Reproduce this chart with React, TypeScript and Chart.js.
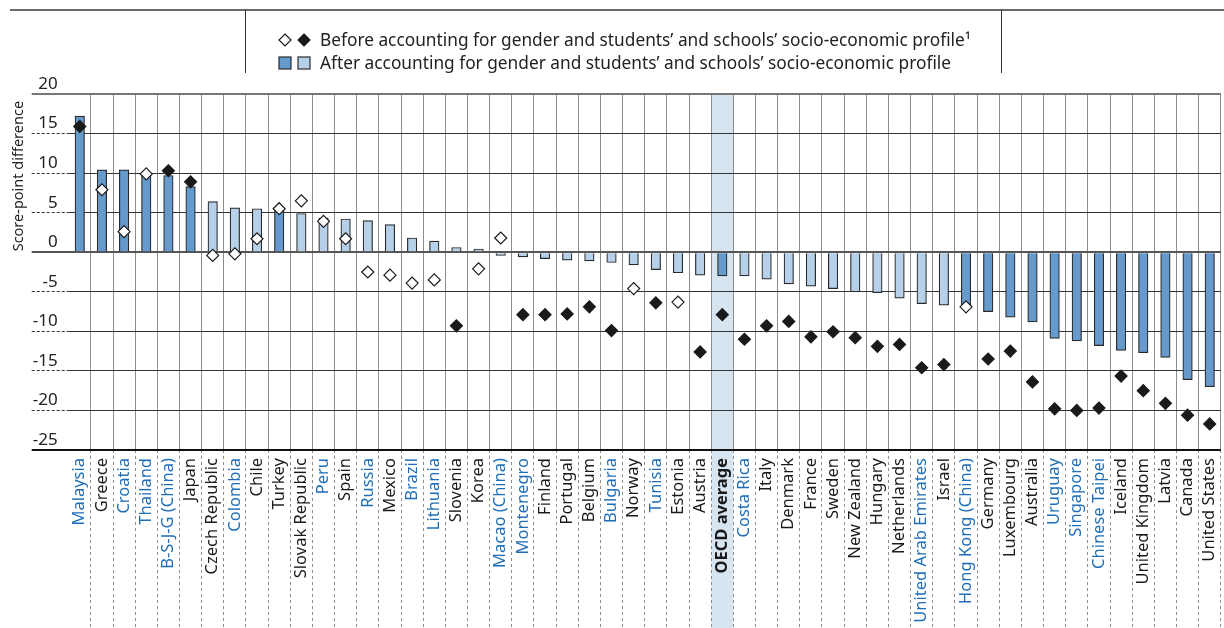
import React, { useEffect, useRef } from "react";
import { Chart, registerables } from "chart.js";

Chart.register(...registerables);

const categories = [
  "Malaysia", "Greece", "Croatia", "Thailand", "B-S-J-G (China)", "Japan", "Czech Republic",
  "Colombia", "Chile", "Turkey", "Slovak Republic", "Peru", "Spain", "Russia", "Mexico", "Brazil",
  "Lithuania", "Slovenia", "Korea", "Macao (China)", "Montenegro", "Finland", "Portugal", "Belgium",
  "Bulgaria", "Norway", "Tunisia", "Estonia", "Austria", "OECD average", "Costa Rica", "Italy",
  "Denmark", "France", "Sweden", "New Zealand", "Hungary", "Netherlands", "United Arab Emirates",
  "Israel", "Hong Kong (China)", "Germany", "Luxembourg", "Australia", "Uruguay", "Singapore",
  "Chinese Taipei", "Iceland", "United Kingdom", "Latvia", "Canada", "United States",
];

// After accounting for gender and socio-economic profile (bars)
const afterValues = [
  17.2, 10.4, 10.4, 9.8, 9.7, 8.3, 6.4, 5.6, 5.5, 5.3, 4.9, 4.3, 4.2, 4.0, 3.5, 1.8,
  1.4, 0.6, 0.4, -0.4, -0.6, -0.8, -1.0, -1.1, -1.3, -1.6, -2.2, -2.6, -2.9, -3.0, -3.0, -3.4,
  -4.0, -4.3, -4.6, -5.0, -5.1, -5.8, -6.5, -6.7, -6.7, -7.5, -8.2, -8.8, -10.9, -11.2,
  -11.8, -12.4, -12.7, -13.3, -16.1, -17.0,
];

// Before accounting (diamonds)
const beforeValues = [
  15.9, 7.9, 2.6, 9.9, 10.3, 8.9, -0.4, -0.2, 1.7, 5.5, 6.5, 3.9, 1.7, -2.5, -2.9, -3.9,
  -3.5, -9.3, -2.1, 1.8, -7.9, -7.9, -7.8, -6.9, -9.9, -4.6, -6.4, -6.3, -12.6, -7.9, -11.0, -9.3,
  -8.75, -10.7, -10.05, -10.8, -11.9, -11.65, -14.6, -14.2, -6.9, -13.5, -12.5, -16.4, -19.8, -20.0,
  -19.7, -15.65, -17.5, -19.1, -20.6, -21.7,
];

// Statistical significance (1 = significant)
const afterSignificant = [
  1, 1, 1, 1, 1, 1, 0, 0, 0, 1, 0, 0, 0, 0, 0, 0,
  0, 0, 0, 0, 0, 0, 0, 0, 0, 0, 0, 0, 0, 1, 0, 0,
  0, 0, 0, 0, 0, 0, 0, 0, 1, 1, 1, 1, 1, 1,
  1, 1, 1, 1, 1, 1,
];
const beforeSignificant = [
  1, 0, 0, 0, 1, 1, 0, 0, 0, 0, 0, 0, 0, 0, 0, 0,
  0, 1, 0, 0, 1, 1, 1, 1, 1, 0, 1, 0, 1, 1, 1, 1,
  1, 1, 1, 1, 1, 1, 1, 1, 0, 1, 1, 1, 1, 1,
  1, 1, 1, 1, 1, 1,
];

const partnerCountries = [
  "Malaysia", "Croatia", "Thailand", "B-S-J-G (China)", "Colombia", "Peru", "Russia", "Brazil",
  "Lithuania", "Macao (China)", "Montenegro", "Bulgaria", "Tunisia", "Costa Rica",
  "United Arab Emirates", "Hong Kong (China)", "Uruguay", "Singapore", "Chinese Taipei",
];

const highlightCategory = "OECD average";
const yMin = -25;
const yMax = 20;
const yStep = 5;
const yTitle = "Score-point difference";
const legendBefore = "Before accounting for gender and students\u2019 and schools\u2019 socio-economic profile\u00B9";
const legendAfter = "After accounting for gender and students\u2019 and schools\u2019 socio-economic profile";

const FONT = "'Noto Sans', sans-serif";
const DARK = "#6699cc";
const LIGHT = "#b5d0e8";
const BLUE_TEXT = "#1f6eb7";

const yLineStyle = (v: number) => {
  if (v === yMax) return { c: "#777777", w: 2, d: [] as number[] };
  if (v === 0) return { c: "#555555", w: 2, d: [] as number[] };
  if (v === yMin) return { c: "#111111", w: 2, d: [] as number[] };
  return { c: "#333333", w: 1, d: [3, 2] };
};

const bandPlugin = {
  id: "oecdBand",
  beforeDraw(chart: any) {
    const x = chart.scales.x;
    const idx = categories.indexOf(highlightCategory);
    if (idx < 0) return;
    const step = x.width / categories.length;
    const cx = x.getPixelForValue(idx);
    const ctx = chart.ctx;
    ctx.save();
    ctx.fillStyle = "#d7e5f1";
    ctx.fillRect(cx - step / 2, chart.chartArea.top, step, chart.height - chart.chartArea.top);
    ctx.restore();
  },
};

const yTitlePlugin = {
  id: "yTitleText",
  afterDraw(chart: any) {
    const y = chart.scales.y;
    const ctx = chart.ctx;
    const yc = (y.getPixelForValue(yMax) + y.getPixelForValue(0)) / 2 + 3;
    ctx.save();
    ctx.translate(18.5, yc);
    ctx.rotate(-Math.PI / 2);
    ctx.font = `14.5px ${FONT}`;
    ctx.fillStyle = "#222222";
    ctx.textAlign = "center";
    ctx.textBaseline = "middle";
    ctx.fillText(yTitle, 0, 0);
    ctx.restore();
  },
};

export default function App() {
  const ref = useRef<HTMLCanvasElement | null>(null);

  useEffect(() => {
    const canvas = ref.current;
    if (!canvas) return;
    const chart = new Chart(canvas, {
      type: "bar",
      data: {
        labels: categories,
        datasets: [
          {
            type: "line",
            label: "Before",
            data: beforeValues,
            showLine: false,
            pointStyle: "rectRot",
            pointRadius: 6,
            pointHoverRadius: 6,
            pointBorderWidth: 1.2,
            pointBorderColor: "#1a1a1a",
            pointBackgroundColor: beforeSignificant.map((s) => (s ? "#1a1a1a" : "#ffffff")),
            order: 0,
          } as any,
          {
            type: "bar",
            label: "After",
            data: afterValues,
            backgroundColor: afterSignificant.map((s) => (s ? DARK : LIGHT)),
            borderColor: "#2a2a2a",
            borderWidth: 1.2,
            barThickness: 9.5,
            order: 1,
          },
        ],
      },
      options: {
        responsive: false,
        animation: false,
        devicePixelRatio: 1,
        layout: { padding: { top: 94, left: 0, right: 0, bottom: 0 } },
        plugins: { legend: { display: false }, tooltip: { enabled: false }, title: { display: false } },
        scales: {
          x: {
            offset: true,
            border: { display: false },
            grid: {
              offset: true,
              color: (ctx: any) => (ctx.index === 0 ? "rgba(0,0,0,0)" : "#8c8c8c"),
              lineWidth: 1,
              borderDash: () => [3, 3],
              tickLength: 178,
              tickColor: (ctx: any) => (ctx.index === 0 ? "rgba(0,0,0,0)" : "#8c8c8c"),
              tickWidth: 1,
              tickBorderDash: () => [3, 3],
            },
            ticks: {
              autoSkip: false,
              minRotation: 90,
              maxRotation: 90,
              padding: -170,
              color: (ctx: any) => (partnerCountries.includes(categories[ctx.index]) ? BLUE_TEXT : "#1a1a1a"),
              font: (ctx: any) => ({
                family: FONT,
                size: 16.5,
                weight: categories[ctx.index] === highlightCategory ? "bold" : "normal",
              }),
            },
            afterFit: (s: any) => {
              s.height = 178;
            },
          },
          y: {
            min: yMin,
            max: yMax,
            border: { display: false },
            grid: {
              color: (ctx: any) => yLineStyle(ctx.tick.value).c,
              lineWidth: (ctx: any) => yLineStyle(ctx.tick.value).w,
              borderDash: (ctx: any) => yLineStyle(ctx.tick.value).d,
              tickLength: 37,
              tickColor: (ctx: any) => yLineStyle(ctx.tick.value).c,
              tickWidth: (ctx: any) => yLineStyle(ctx.tick.value).w,
              tickBorderDash: (ctx: any) => yLineStyle(ctx.tick.value).d,
            },
            ticks: {
              stepSize: yStep,
              padding: -26,
              labelOffset: -10,
              color: "#222222",
              font: { family: FONT, size: 17 },
            },
            afterFit: (s: any) => {
              s.width = 68.7;
            },
          },
        },
      },
      plugins: [bandPlugin, yTitlePlugin],
    });
    return () => chart.destroy();
  }, []);

  const textStyle: React.CSSProperties = {
    position: "absolute",
    left: 320,
    fontFamily: FONT,
    fontSize: 17.3,
    color: "#222",
    whiteSpace: "nowrap",
    lineHeight: "22px",
  };

  return (
    <div
      style={{
        position: "fixed",
        left: 0,
        top: 0,
        width: 1224,
        height: 628,
        overflow: "hidden",
        background: "#fff",
      }}
    >
      <canvas ref={ref} width={1228} height={628} style={{ position: "absolute", left: 0, top: 0, display: "block" }} />
      <div style={{ position: "absolute", left: 10, top: 8.5, width: 1214, height: 2, background: "#6b6b6b" }} />
      <div style={{ position: "absolute", left: 245, top: 10, width: 1, height: 63, background: "#333" }} />
      <div style={{ position: "absolute", left: 1001, top: 10, width: 1, height: 63, background: "#333" }} />
      <svg style={{ position: "absolute", left: 276, top: 31 }} width={40} height={44}>
        <polygon points="9,3 15,9 9,15 3,9" fill="#fff" stroke="#1a1a1a" strokeWidth={1.2} />
        <polygon points="28,3 34,9 28,15 22,9" fill="#1a1a1a" stroke="#1a1a1a" strokeWidth={1.2} />
        <rect x={3} y={26} width={12} height={12} fill={DARK} stroke="#2a2a2a" strokeWidth={1.2} />
        <rect x={22} y={26} width={12} height={12} fill={LIGHT} stroke="#2a2a2a" strokeWidth={1.2} />
      </svg>
      <div style={{ ...textStyle, top: 29 }}>{legendBefore}</div>
      <div style={{ ...textStyle, top: 52 }}>{legendAfter}</div>
    </div>
  );
}
